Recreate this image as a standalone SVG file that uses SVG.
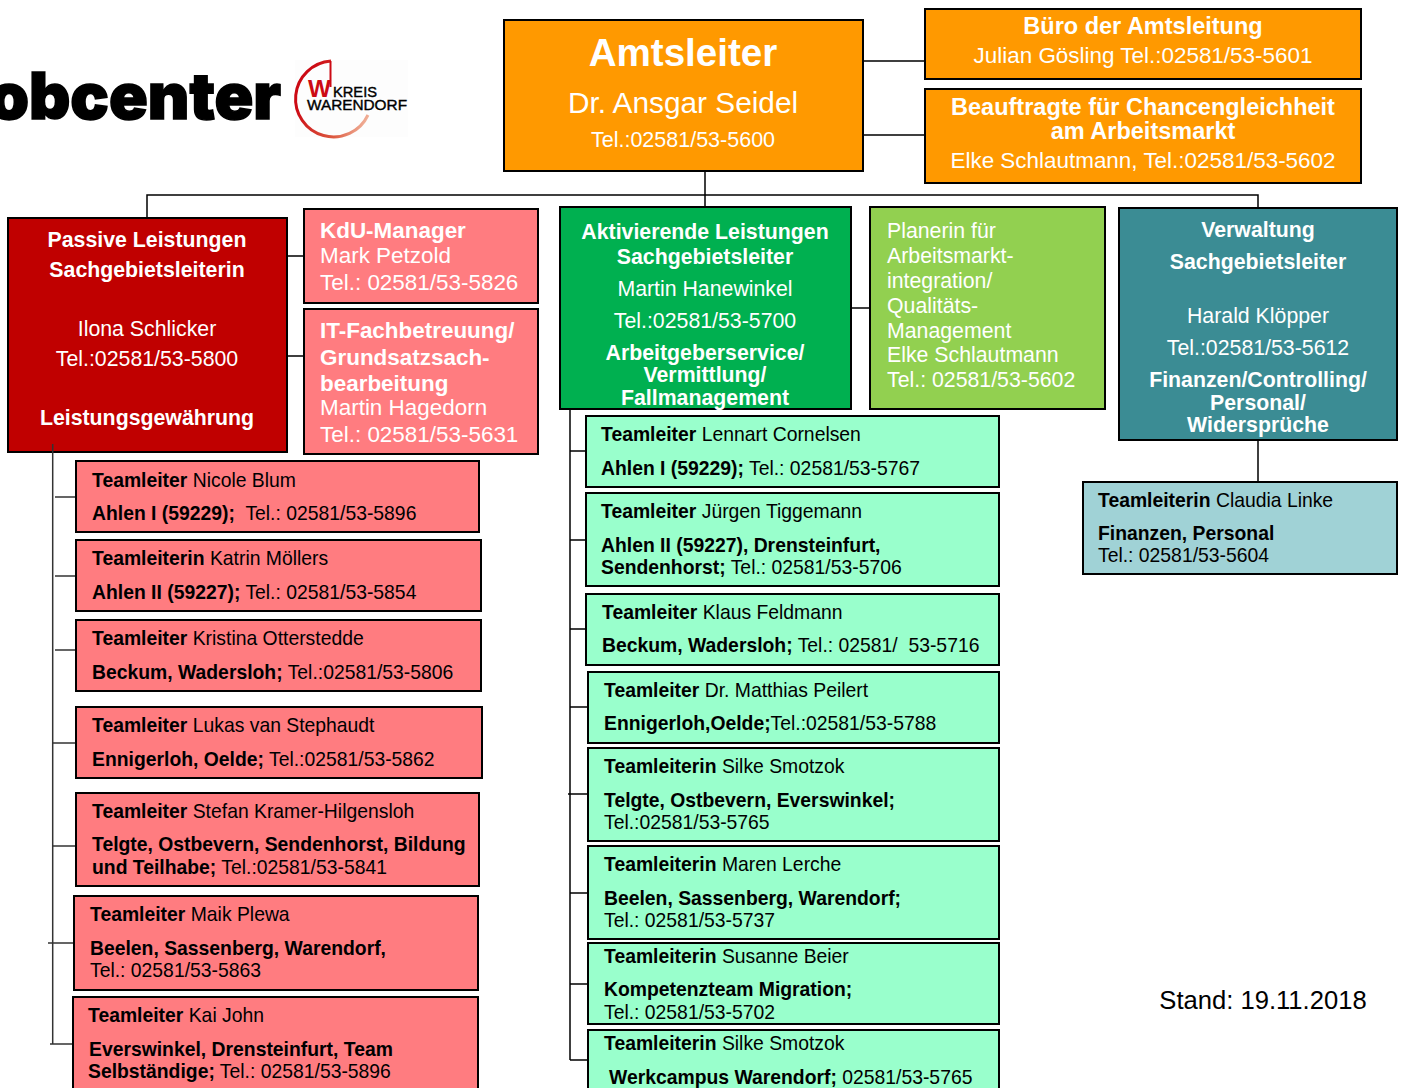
<svg xmlns="http://www.w3.org/2000/svg" width="1403" height="1088" viewBox="0 0 1403 1088">
<defs>
<linearGradient id="arcfade" gradientUnits="userSpaceOnUse" x1="300" y1="100" x2="370" y2="130"><stop offset="0" stop-color="#cc0a14"/><stop offset="0.6" stop-color="#dd5a40"/><stop offset="1" stop-color="#f6c8b0"/></linearGradient>
</defs>
<style>
text{font-family:"Liberation Sans",Arial,sans-serif;font-size:20px;fill:#000}
.b{font-weight:bold}
.w{fill:#fff}
.c{text-anchor:middle}
.n{stroke:#000;stroke-width:2}
.or{fill:#FF9900}.re{fill:#C00000}.pk{fill:#FF7C80}.gr{fill:#00B050}.lg{fill:#92D050}.te{fill:#3B8C94}.aq{fill:#99FFCC}.lb{fill:#A0D2D6}
.ln{fill:none;stroke:#000;stroke-width:1.5}
.g{stroke:#333;stroke-width:1.5;fill:none}
.t{font-size:19.35px}
.m{font-size:21.3px}
.l{font-size:22.45px}
.h{font-size:23.5px}
</style>
<rect width="1403" height="1088" fill="#fff"/>
<g id="logo">
<rect x="295" y="60" width="113" height="77" fill="#fdfdfd"/>
<text x="-11" y="119" textLength="292" lengthAdjust="spacingAndGlyphs" style="font-size:64px;font-family:Inter,'Liberation Sans',sans-serif;font-weight:900;stroke:#000;stroke-width:1.5">obcenter</text>
<path d="M331 61 A38 38 0 1 0 368 115" fill="none" stroke="url(#arcfade)" stroke-width="3"/>
<path d="M330.500 61 V87" fill="none" stroke="#cc0a14" stroke-width="2"/>
<text x="308" y="97" textLength="23" lengthAdjust="spacingAndGlyphs" style="font-size:23px;font-weight:bold;fill:#cc0a14">W</text>
<text x="333" y="97" textLength="44" lengthAdjust="spacingAndGlyphs" style="font-size:15.500px;stroke:#000;stroke-width:.4">KREIS</text>
<text x="307" y="110" textLength="100" lengthAdjust="spacingAndGlyphs" style="font-size:15.500px;stroke:#000;stroke-width:.4">WARENDORF</text>
</g>
<g id="amtsleiter"><rect class="n or" x="504" y="20" width="359" height="151"/>
<text class="b w c" x="683" y="66" style="font-size:38.600px">Amtsleiter</text>
<text class="w c" x="683" y="113" style="font-size:29.800px">Dr. Ansgar Seidel</text>
<text class="w c" x="683" y="147" style="font-size:21.500px">Tel.:02581/53-5600</text></g>
<g id="buero"><rect class="n or" x="925" y="9" width="436" height="70"/>
<text class="b w c h" x="1143" y="34">Büro der Amtsleitung</text>
<text class="w c l" x="1143" y="63">Julian Gösling Tel.:02581/53-5601</text></g>
<g id="chancen"><rect class="n or" x="925" y="89" width="436" height="94"/>
<text class="b w c h" x="1143" y="115">Beauftragte für Chancengleichheit</text>
<text class="b w c h" x="1143" y="139">am Arbeitsmarkt</text>
<text class="w c l" x="1143" y="168">Elke Schlautmann, Tel.:02581/53-5602</text></g>
<g id="passive"><rect class="n re" x="8" y="218" width="279" height="234"/>
<text class="b w c m" x="147" y="247">Passive Leistungen</text>
<text class="b w c m" x="147" y="277">Sachgebietsleiterin</text>
<text class="w c m" x="147" y="336">Ilona Schlicker</text>
<text class="w c m" x="147" y="366">Tel.:02581/53-5800</text>
<text class="b w c m" x="147" y="425">Leistungsgewährung</text></g>
<g id="kdu"><rect class="n pk" x="304" y="209" width="234" height="94"/>
<text class="b w l" x="320" y="238">KdU-Manager</text>
<text class="w l" x="320" y="263">Mark Petzold</text>
<text class="w l" x="320" y="290">Tel.: 02581/53-5826</text></g>
<g id="it"><rect class="n pk" x="304" y="309" width="234" height="145"/>
<text class="b w l" x="320" y="338">IT-Fachbetreuung/</text>
<text class="b w l" x="320" y="365">Grundsatzsach-</text>
<text class="b w l" x="320" y="391">bearbeitung</text>
<text class="w l" x="320" y="415">Martin Hagedorn</text>
<text class="w l" x="320" y="442">Tel.: 02581/53-5631</text></g>
<g id="aktiv"><rect class="n gr" x="560" y="207" width="291" height="202"/>
<text class="b w c m" x="705" y="239">Aktivierende Leistungen</text>
<text class="b w c m" x="705" y="264">Sachgebietsleiter</text>
<text class="w c m" x="705" y="296">Martin Hanewinkel</text>
<text class="w c m" x="705" y="328">Tel.:02581/53-5700</text>
<text class="b w c m" x="705" y="360">Arbeitgeberservice/</text>
<text class="b w c m" x="705" y="382">Vermittlung/</text>
<text class="b w c m" x="705" y="405">Fallmanagement</text></g>
<g id="planerin"><rect class="n lg" x="870" y="207" width="235" height="202"/>
<text class="w m" x="887" y="238">Planerin für</text>
<text class="w m" x="887" y="263">Arbeitsmarkt-</text>
<text class="w m" x="887" y="288">integration/</text>
<text class="w m" x="887" y="313">Qualitäts-</text>
<text class="w m" x="887" y="338">Management</text>
<text class="w m" x="887" y="362">Elke Schlautmann</text>
<text class="w m" x="887" y="387">Tel.: 02581/53-5602</text></g>
<g id="verwaltung"><rect class="n te" x="1119" y="208" width="278" height="232"/>
<text class="b w c m" x="1258" y="237">Verwaltung</text>
<text class="b w c m" x="1258" y="269">Sachgebietsleiter</text>
<text class="w c m" x="1258" y="323">Harald Klöpper</text>
<text class="w c m" x="1258" y="355">Tel.:02581/53-5612</text>
<text class="b w c m" x="1258" y="387">Finanzen/Controlling/</text>
<text class="b w c m" x="1258" y="410">Personal/</text>
<text class="b w c m" x="1258" y="432">Widersprüche</text></g>
<g id="r1"><rect class="n pk" x="76" y="461" width="403" height="71"/>
<text class="t" x="92" y="487"><tspan class="b">Teamleiter</tspan> Nicole Blum</text>
<text class="t" x="92" y="520" xml:space="preserve"><tspan class="b">Ahlen I (59229);</tspan>  Tel.: 02581/53-5896</text></g>
<g id="r2"><rect class="n pk" x="76" y="540" width="405" height="71"/>
<text class="t" x="92" y="565"><tspan class="b">Teamleiterin</tspan> Katrin Möllers</text>
<text class="t" x="92" y="599"><tspan class="b">Ahlen II (59227);</tspan> Tel.: 02581/53-5854</text></g>
<g id="r3"><rect class="n pk" x="76" y="620" width="405" height="71"/>
<text class="t" x="92" y="645"><tspan class="b">Teamleiter</tspan> Kristina Otterstedde</text>
<text class="t" x="92" y="679"><tspan class="b">Beckum, Wadersloh;</tspan> Tel.:02581/53-5806</text></g>
<g id="r4"><rect class="n pk" x="76" y="707" width="406" height="71"/>
<text class="t" x="92" y="732"><tspan class="b">Teamleiter</tspan> Lukas van Stephaudt</text>
<text class="t" x="92" y="766"><tspan class="b">Ennigerloh, Oelde;</tspan> Tel.:02581/53-5862</text></g>
<g id="r5"><rect class="n pk" x="76" y="793" width="403" height="93"/>
<text class="t" x="92" y="818"><tspan class="b">Teamleiter</tspan> Stefan Kramer-Hilgensloh</text>
<text class="t b" x="92" y="851">Telgte, Ostbevern, Sendenhorst, Bildung</text>
<text class="t" x="92" y="874"><tspan class="b">und Teilhabe;</tspan> Tel.:02581/53-5841</text></g>
<g id="r6"><rect class="n pk" x="74" y="896" width="404" height="94"/>
<text class="t" x="90" y="921"><tspan class="b">Teamleiter</tspan> Maik Plewa</text>
<text class="t b" x="90" y="955">Beelen, Sassenberg, Warendorf,</text>
<text class="t" x="90" y="977">Tel.: 02581/53-5863</text></g>
<g id="r7"><rect class="n pk" x="73" y="997" width="405" height="94"/>
<text class="t" x="88" y="1022"><tspan class="b">Teamleiter</tspan> Kai John</text>
<text class="t b" x="89" y="1056">Everswinkel, Drensteinfurt, Team</text>
<text class="t" x="88" y="1078"><tspan class="b">Selbständige;</tspan> Tel.: 02581/53-5896</text></g>
<g id="g1"><rect class="n aq" x="586" y="416" width="413" height="71"/>
<text class="t" x="601" y="441"><tspan class="b">Teamleiter</tspan> Lennart Cornelsen</text>
<text class="t" x="601" y="475"><tspan class="b">Ahlen I (59229);</tspan> Tel.: 02581/53-5767</text></g>
<g id="g2"><rect class="n aq" x="586" y="493" width="413" height="93"/>
<text class="t" x="601" y="518"><tspan class="b">Teamleiter</tspan> Jürgen Tiggemann</text>
<text class="t b" x="601" y="552">Ahlen II (59227), Drensteinfurt,</text>
<text class="t" x="601" y="574"><tspan class="b">Sendenhorst;</tspan> Tel.: 02581/53-5706</text></g>
<g id="g3"><rect class="n aq" x="586" y="594" width="413" height="71"/>
<text class="t" x="602" y="619"><tspan class="b">Teamleiter</tspan> Klaus Feldmann</text>
<text class="t" x="602" y="652" xml:space="preserve"><tspan class="b">Beckum, Wadersloh;</tspan> Tel.: 02581/  53-5716</text></g>
<g id="g4"><rect class="n aq" x="588" y="672" width="411" height="71"/>
<text class="t" x="604" y="697"><tspan class="b">Teamleiter</tspan> Dr. Matthias Peilert</text>
<text class="t" x="604" y="730"><tspan class="b">Ennigerloh,Oelde;</tspan>Tel.:02581/53-5788</text></g>
<g id="g5"><rect class="n aq" x="588" y="748" width="411" height="93"/>
<text class="t" x="604" y="773"><tspan class="b">Teamleiterin</tspan> Silke Smotzok</text>
<text class="t b" x="604" y="807">Telgte, Ostbevern, Everswinkel;</text>
<text class="t" x="604" y="829">Tel.:02581/53-5765</text></g>
<g id="g6"><rect class="n aq" x="588" y="846" width="411" height="93"/>
<text class="t" x="604" y="871"><tspan class="b">Teamleiterin</tspan> Maren Lerche</text>
<text class="t b" x="604" y="905">Beelen, Sassenberg, Warendorf;</text>
<text class="t" x="604" y="927">Tel.: 02581/53-5737</text></g>
<g id="g7"><rect class="n aq" x="588" y="943" width="411" height="81"/>
<text class="t" x="604" y="963"><tspan class="b">Teamleiterin</tspan> Susanne Beier</text>
<text class="t" x="604" y="996"><tspan class="b">Kompetenzteam Migration;</tspan></text>
<text class="t" x="604" y="1019">Tel.: 02581/53-5702</text></g>
<g id="g8"><rect class="n aq" x="588" y="1030" width="411" height="62"/>
<text class="t" x="604" y="1050"><tspan class="b">Teamleiterin</tspan> Silke Smotzok</text>
<text class="t" x="609" y="1084"><tspan class="b">Werkcampus Warendorf;</tspan> 02581/53-5765</text></g>
<g id="linke"><rect class="n lb" x="1083" y="482" width="314" height="92"/>
<text class="t" x="1098" y="507"><tspan class="b">Teamleiterin</tspan> Claudia Linke</text>
<text class="t b" x="1098" y="540">Finanzen, Personal</text>
<text class="t" x="1098" y="562">Tel.: 02581/53-5604</text></g>
<text x="1263" y="1009" class="c" style="font-size:25.600px">Stand: 19.11.2018</text>
<g id="connectors">
<path class="ln" d="M864 61H924M864 135H924M705 172V206M147 217V195H1258V207M288 256H303M288 356H303M852 308H869M1258 441V481"/>
<path class="g" d="M52.700 444V1044"/>
<path class="g" d="M55 497H75M55 576H75M55 650H75M52 743H75M52 846H75M48 943H73M50 1044H72"/>
<path class="ln" d="M570 410V1060"/>
<path class="ln" d="M570 451H585M570 540H585M570 629H585M570 707H587M568 794H587M570 893H587M570 984H587M570 1060H587"/>
</g>
</svg>
